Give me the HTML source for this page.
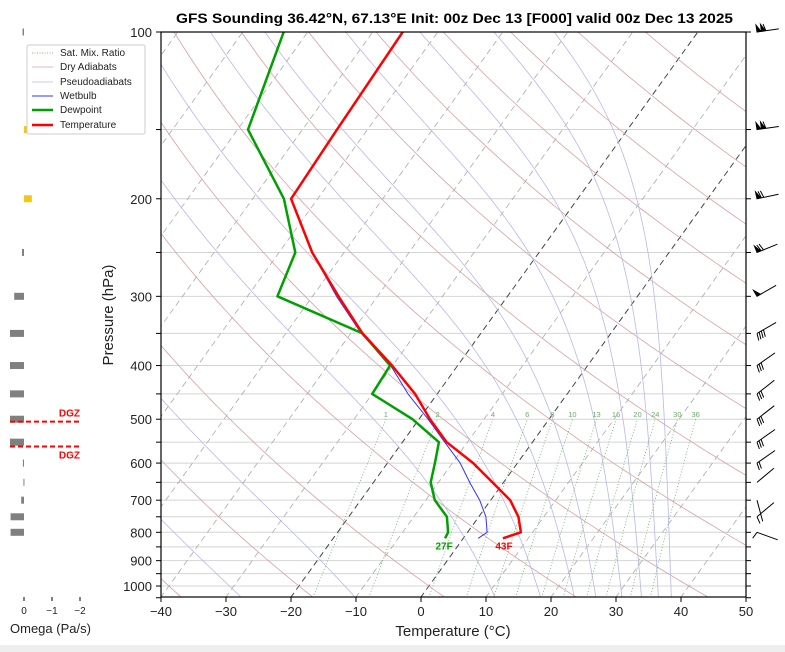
<!DOCTYPE html>
<html><head><meta charset="utf-8"><style>
html,body{margin:0;padding:0;background:#fff;}
svg{display:block;font-family:"Liberation Sans","DejaVu Sans",sans-serif;}
</style></head><body>
<svg id="chart" width="785" height="652" viewBox="0 0 785 652">
<rect x="0" y="0" width="785" height="652" fill="#fff"/>
<rect x="0" y="645" width="785" height="7" fill="#eeeeee"/>
<defs><clipPath id="plotclip"><rect x="161" y="32" width="585" height="565"/></clipPath></defs>
<text x="176" y="23" font-size="13.5" font-weight="bold" textLength="557" lengthAdjust="spacingAndGlyphs">GFS Sounding 36.42°N, 67.13°E Init: 00z Dec 13 [F000] valid 00z Dec 13 2025</text>
<g id="bg" clip-path="url(#plotclip)"></g>
<g id="series" clip-path="url(#plotclip)"></g>
<g id="axes"></g>
<g id="omega"></g>
<g id="barbs"></g>
<g id="legend">
<rect x="27" y="45" width="118" height="89" fill="#fff" stroke="#ccc" rx="2"/>
<line x1="32" y1="53" x2="53" y2="53" stroke="#5a5" stroke-dasharray="1,1.5" stroke-width="0.8"/>
<text x="60" y="56" font-size="10" fill="#222">Sat. Mix. Ratio</text>
<line x1="32" y1="67" x2="53" y2="67" stroke="#d9a0a0" stroke-width="0.8"/>
<text x="60" y="70" font-size="10" fill="#222">Dry Adiabats</text>
<line x1="32" y1="82" x2="53" y2="82" stroke="#b8b8e8" stroke-width="0.8"/>
<text x="60" y="85" font-size="10" fill="#222">Pseudoadiabats</text>
<line x1="32" y1="96" x2="53" y2="96" stroke="#3333ff" stroke-width="1"/>
<text x="60" y="99" font-size="10" fill="#222">Wetbulb</text>
<line x1="32" y1="110" x2="53" y2="110" stroke="#00a000" stroke-width="2.5"/>
<text x="60" y="113" font-size="10" fill="#222">Dewpoint</text>
<line x1="32" y1="125" x2="53" y2="125" stroke="#ff0000" stroke-width="2.5"/>
<text x="60" y="128" font-size="10" fill="#222">Temperature</text>
</g>
</svg>
<script>
// ---- data ----
const pLevels = [100,150,200,250,300,350,400,450,500,550,600,650,700,750,800,820];
const tempC   = [-65.4,-64.7,-64.1,-54.9,-46,-38.2,-30.1,-23.4,-18.3,-13.2,-6.8,-1.7,3.0,6.1,8.2,6.1];
const dewC    = [-83.7,-78.4,-65.2,-57.5,-55.4,-38.2,-30.4,-30.0,-21.0,-14.4,-12.7,-11.2,-8.6,-4.9,-3.0,-2.8];
const wbP     = [250,300,350,400,450,500,550,600,650,700,750,800,820];
const wbC     = [-54.9,-46.3,-38.4,-30.3,-24.5,-18.6,-13.5,-8.8,-5.2,-1.7,1.1,3.0,2.3];
const omegaP  = [100,150,200,250,300,350,400,450,500,550,600,650,700,750,800];
const omegaV  = [0.05,-0.25,-0.28,0.07,0.35,0.5,0.5,0.5,0.5,0.5,0.04,0.02,0.1,0.48,0.48];
const barbP   = [100,150,200,250,300,350,400,450,500,550,600,650,700,750,800];
const barbAng = [8,8,12,22,30,30,35,38,38,35,35,40,-75,40,-20];
const barbFlags=[2,2,1,1,1,0,0,0,0,0,0,0,0,0,0];
const barbFull= [1,1,2,2,0,4,3,3,3,3,2,0,0,1,1];
const mixRatios=[1,2,4,6,8,10,13,16,20,24,30,36];
const dryT0   = [-40,-20,0,20,40,60,80,100,120,140,160,180,200];
const moistT0 = [-45,-27.5,-10,11.5,18.5,23.7,27,31,34,36.6,38.6];
const xTicks  = [-40,-30,-20,-10,0,10,20,30,40,50];
const yTickLabels=[100,200,300,400,500,600,700,800,900,1000];
const tempLabel="43F", dewLabel="27F";

// ---- axis functions ----
const PBOT=1050, PTOP=100;
function yP(p){return 32+554*Math.log10(p/100);}
function xT(T,p){return 421+6.5*T+0.72*(597-yP(p));}
const NS="http://www.w3.org/2000/svg";
function mk(tag,attrs,parent){const e=document.createElementNS(NS,tag);for(const k in attrs)e.setAttribute(k,attrs[k]);parent.appendChild(e);return e;}
function pathFrom(pts){return pts.map((q,i)=>(i?'L':'M')+q[0].toFixed(1)+','+q[1].toFixed(1)).join(' ');}
const bg=document.getElementById('bg'), ser=document.getElementById('series'), ax=document.getElementById('axes');

// gridlines
for(let p=100;p<=1050;p+=50){
  const y=yP(p);
  const l=mk('line',{x1:161,x2:746,y1:y,y2:y,stroke:'#d4d4d4','stroke-width':1},bg);
  
  
}
// isotherms
for(let T=-120;T<=50;T+=10){
  const a=mk('line',{x1:xT(T,PBOT),y1:yP(PBOT),x2:xT(T,PTOP),y2:yP(PTOP),stroke:(T===0||T===-20)?'#444':'#aaa','stroke-width':(T===0||T===-20)?1:0.8,'stroke-dasharray':'6,4'},bg);
  
  
}
// dry adiabats
dryT0.forEach(t0=>{
  const pts=[];const th=t0+273.15;
  for(let p=PBOT;p>=PTOP;p-=10){pts.push([xT(th*Math.pow(p/1000,0.2857)-273.15,p),yP(p)]);}
  const d=mk('path',{d:pathFrom(pts),fill:'none',stroke:'#d9a0a0','stroke-width':0.8},bg);
  
  
});
// moist adiabats
function es(Tk){return 6.112*Math.exp(17.67*(Tk-273.15)/(Tk-29.65));}
function dTdp(Tk,p){const e=es(Tk);const rs=0.622*e/(p-e);const Rd=287.04,Cp=1005.7,Lv=2.501e6;
  return (1/p)*(Rd*Tk+Lv*rs)/(Cp+(Lv*Lv*rs*0.622)/(Rd*Tk*Tk));}
moistT0.forEach(t0=>{
  const pts=[];let Tk=t0+273.15;const h=-2;
  for(let p=PBOT;p>=PTOP;p+=h){
    pts.push([xT(Tk-273.15,p),yP(p)]);
    const k1=dTdp(Tk,p),k2=dTdp(Tk+k1*h,p+h);Tk+=(k1+k2)/2*h;
  }
  const m=mk('path',{d:pathFrom(pts),fill:'none',stroke:'#b8b8e8','stroke-width':0.8},bg);
  
  
});
// mixing ratio lines
function tdFromW(w,p){const e=w*p/(622+w);const l=Math.log(e/6.112);return 243.5*l/(17.67-l);}
mixRatios.forEach(w=>{
  const pts=[];for(let p=PBOT;p>=500;p-=10)pts.push([xT(tdFromW(w,p),p),yP(p)]);
  const m=mk('path',{d:pathFrom(pts),fill:'none',stroke:'#6aae6a','stroke-width':0.8,'stroke-dasharray':'1,2'},bg);
  
  
  const t=mk('text',{x:xT(tdFromW(w,500),500),y:417,'text-anchor':'middle','font-size':7.5,fill:'#6aae6a'},bg);
  t.textContent=w;
  
  
});

// series
function line(ps,ts,color,w,name){
  const pts=ps.map((p,i)=>[xT(ts[i],p),yP(p)]);
  const e=mk('path',{d:pathFrom(pts),fill:'none',stroke:color,'stroke-width':w,'stroke-linejoin':'round'},ser);
  
  
}
line(wbP,wbC,'#3333ff',1,'wetbulb-line');
line(pLevels,dewC,'#00a000',2.5,'dewpoint-line');
line(pLevels,tempC,'#ff0000',2.5,'temperature-line');
const sp=pLevels[pLevels.length-1];
const tl=mk('text',{x:xT(tempC[tempC.length-1],sp)+1,y:yP(sp)+11,'text-anchor':'middle','font-size':10,'font-weight':'bold',fill:'#ff0000'},ax);
tl.textContent=tempLabel;


const dl=mk('text',{x:xT(dewC[dewC.length-1],sp)-1,y:yP(sp)+11,'text-anchor':'middle','font-size':10,'font-weight':'bold',fill:'#00a000'},ax);
dl.textContent=dewLabel;



// axes frame
const fr=mk('rect',{x:161,y:32,width:585,height:565,fill:'none',stroke:'#000','stroke-width':1.2},ax);


for(let p=100;p<=1050;p+=50){
  const y=yP(p);
  const a=mk('line',{x1:156,x2:161,y1:y,y2:y,stroke:'#000'},ax);
  
  
  const b=mk('line',{x1:746,x2:751,y1:y,y2:y,stroke:'#000'},ax);
  
  
}
yTickLabels.forEach(p=>{
  const t=mk('text',{x:152,y:yP(p)+5,'text-anchor':'end','font-size':13,fill:'#222'},ax);
  t.textContent=p;
  
  
});
xTicks.forEach(T=>{
  const x=421+6.5*T;
  const a=mk('line',{x1:x,x2:x,y1:597,y2:602,stroke:'#000'},ax);
  
  
  const t=mk('text',{x:x,y:616,'text-anchor':'middle','font-size':13,fill:'#222'},ax);
  t.textContent=(T<0?'\u2212'+(-T):T);
  
  
});
const xt=mk('text',{x:453,y:636,'text-anchor':'middle','font-size':15,fill:'#222'},ax);
xt.textContent='Temperature (°C)';


const yt=mk('text',{x:0,y:0,'text-anchor':'middle','font-size':15,fill:'#222',transform:'translate(113,315) rotate(-90)'},ax);
yt.textContent='Pressure (hPa)';



// omega panel
const om=document.getElementById('omega');
function xO(v){return 24-28*v;}
omegaP.forEach((p,i)=>{
  const v=omegaV[i];const x0=Math.min(xO(0),xO(v)),w=Math.max(1,Math.abs(xO(v)-xO(0)));
  const r=mk('rect',{x:x0,y:yP(p)-3.5,width:w,height:7,fill:v<0?'#f5c518':'#808080'},om);
  
  
});
[0,-1,-2].forEach(v=>{
  const a=mk('line',{x1:xO(v),x2:xO(v),y1:597,y2:601,stroke:'#000'},om);
  
  
  const t=mk('text',{x:xO(v),y:614,'text-anchor':'middle','font-size':10,fill:'#222'},om);
  t.textContent=v<0?'\u2212'+(-v):v;
  
  
});
const ot=mk('text',{x:10,y:633,'font-size':13,fill:'#222'},om);
ot.textContent='Omega (Pa/s)';


[[505,'up'],[560,'down']].forEach(([p,pos])=>{
  const y=yP(p);
  const l=mk('line',{x1:10,x2:80,y1:y,y2:y,stroke:'#ff0000','stroke-width':2,'stroke-dasharray':'5,3'},om);
  
  
  const t=mk('text',{x:80,y:pos==='up'?y-5:y+12,'text-anchor':'end','font-size':10,'font-weight':'bold',fill:'#ff0000'},om);
  t.textContent='DGZ';
  
  
});

// wind barbs
const bb=document.getElementById('barbs');
barbP.forEach((p,i)=>{
  const y=yP(p),x=757,a=barbAng[i]*Math.PI/180,L=22;
  const ux=Math.cos(a),uy=-Math.sin(a);
  const sgn=p<=300?-1:1;
  const nx=uy*sgn,ny=-ux*sgn;
  let d='M'+x+','+y+' L'+(x+ux*L).toFixed(1)+','+(y+uy*L).toFixed(1);
  let s=0;
  for(let f=0;f<barbFlags[i];f++){
    const bx=x+ux*s,by=y+uy*s;
    d+=' M'+bx.toFixed(1)+','+by.toFixed(1)+' L'+(bx-nx*7).toFixed(1)+','+(by-ny*7).toFixed(1)+' L'+(bx+ux*4).toFixed(1)+','+(by+uy*4).toFixed(1)+' Z';
    s+=4.5;
  }
  for(let f=0;f<barbFull[i];f++){
    const bx=x+ux*s,by=y+uy*s;
    d+=' M'+bx.toFixed(1)+','+by.toFixed(1)+' L'+(bx-nx*7-ux*2).toFixed(1)+','+(by-ny*7-uy*2).toFixed(1);
    s+=2.5;
  }
  const e=mk('path',{d:d,fill:'#000',stroke:'#000','stroke-width':1},bb);
  
  
});
</script>
</body></html>
